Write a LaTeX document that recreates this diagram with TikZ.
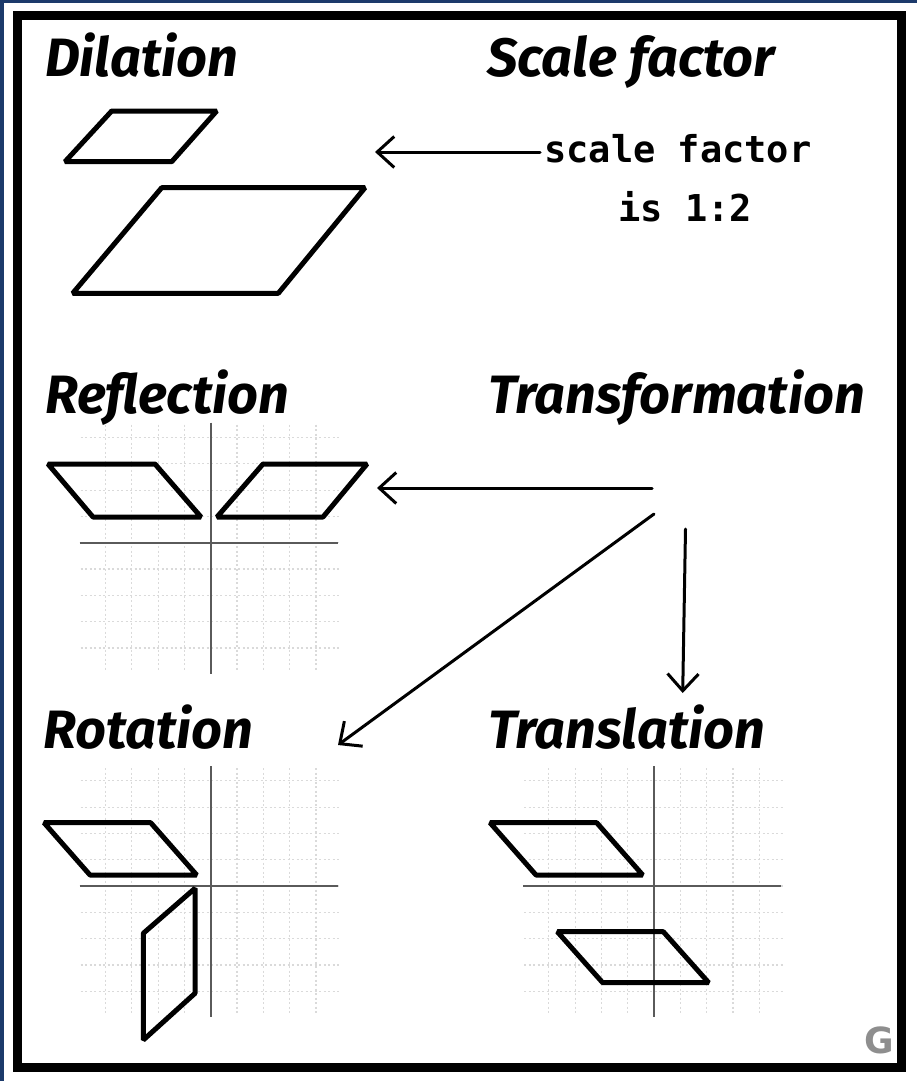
\documentclass[tikz,border=0pt]{standalone}
\usepackage{fontspec}
\usetikzlibrary{arrows.meta}
\newfontfamily\titlefont{Fira Sans}
\newfontfamily\handfont{DejaVu Sans Mono}
\newfontfamily\gfont{DejaVu Sans}
\definecolor{navy}{HTML}{1C3A6B}
\definecolor{gridgray}{HTML}{DADADA}
\definecolor{axisgray}{HTML}{5A5A5A}
\definecolor{ggray}{HTML}{8E8E8E}
\tikzset{
  title/.style={anchor=base west, inner sep=0pt, font=\titlefont\bfseries\itshape\fontsize{54}{54}\selectfont},
  hand/.style={anchor=base west, inner sep=0pt, font=\handfont\bfseries\fontsize{37}{37}\selectfont},
  quad/.style={draw=black, line width=5pt, line join=bevel},
  gridline/.style={gridgray, line width=1.2pt, dash pattern=on 2pt off 2.5pt},
  axisline/.style={axisgray, line width=1.6pt},
  arr/.style={line width=3pt, line cap=round, -{Straight Barb[length=17pt,width=31pt,line width=3pt]}},
}
\newcommand\mygrid[2]{%
  \foreach \k in {-4,...,4}{%
    \draw[gridline] ({#1+\k*26.3},{#2-118}) -- ({#1+\k*26.3},{#2+128});
    \draw[gridline] ({#1-130},{#2+\k*26.3}) -- ({#1+130},{#2+\k*26.3});
  }%
  \draw[axisline] ({#1-131},{#2}) -- ({#1+127},{#2});
  \draw[axisline] ({#1},{#2-120}) -- ({#1},{#2+131});
}
\begin{document}
\begin{tikzpicture}[x=1pt,y=-1pt]
  \useasboundingbox (0,0) rectangle (917,1081);
  \fill[navy] (0,0) rectangle (917,1081);
  \fill[white] (4,3) rectangle (917,1081);
  \draw[line width=9pt] (17.5,15.5) rectangle (901.5,1067);

  % titles
  \node[title] (dil) at (45,77) {Dilation};
  \node[title] (scf) at (487,77) {Scale factor};
  \node[title] (ref) at (45,413) {Reflection};
  \node[title] (trf) at (488,413) {Transformation};
  \node[title] (rot) at (43,748) {Rotation};
  \node[title] (trl) at (488,748) {Translation};

  % handwritten note
  \node[hand] (sf1) at (544,162) {scale factor};
  \node[hand] (sf2) at (618,221) {is 1:2};
  \coordinate (sfa) at (540,152);
  \coordinate (dila) at (375,152);
  \draw[arr] (sfa) -- (dila);

  % dilation shapes
  \draw[quad] (111.7,111) -- (216.7,111) -- (171.7,161.7) -- (65,161.7) -- cycle;
  \draw[quad] (161.7,187.7) -- (365,187.7) -- (278.3,293.3) -- (72.7,293.3) -- cycle;

  % reflection
  \mygrid{210.7}{542.7}
  \draw[quad] (48,464) -- (155,464) -- (201,517) -- (93,517) -- cycle;
  \draw[quad] (263,464) -- (367,464) -- (323,517) -- (217,517) -- cycle;

  % rotation
  \mygrid{210.7}{886}
  \draw[quad] (44,822.7) -- (150.7,822.7) -- (196.7,875) -- (90,875) -- cycle;
  \draw[quad] (195,888.3) -- (195,993.3) -- (143.3,1040) -- (143.3,933.3) -- cycle;

  % translation
  \mygrid{654}{886}
  \draw[quad] (490,822.7) -- (596.7,822.7) -- (642.7,875) -- (536,875) -- cycle;
  \draw[quad] (557.3,931.7) -- (663.3,931.7) -- (708.7,982.7) -- (602.7,982.7) -- cycle;

  % transformation arrows
  \coordinate (ta) at (652,488);
  \coordinate (tb) at (654,514);
  \coordinate (tc) at (685.5,529);
  \coordinate (refa) at (377,488);
  \coordinate (rota) at (338,745);
  \coordinate (trla) at (682.7,693);
  \draw[arr] (ta) -- (refa);
  \draw[arr] (tb) -- (rota);
  \draw[arr] (tc) -- (trla);

  \node[anchor=base, inner sep=0pt, text=ggray, font=\gfont\bfseries\fontsize{36}{36}\selectfont] (g) at (879,1053) {G};
\end{tikzpicture}
\end{document}
